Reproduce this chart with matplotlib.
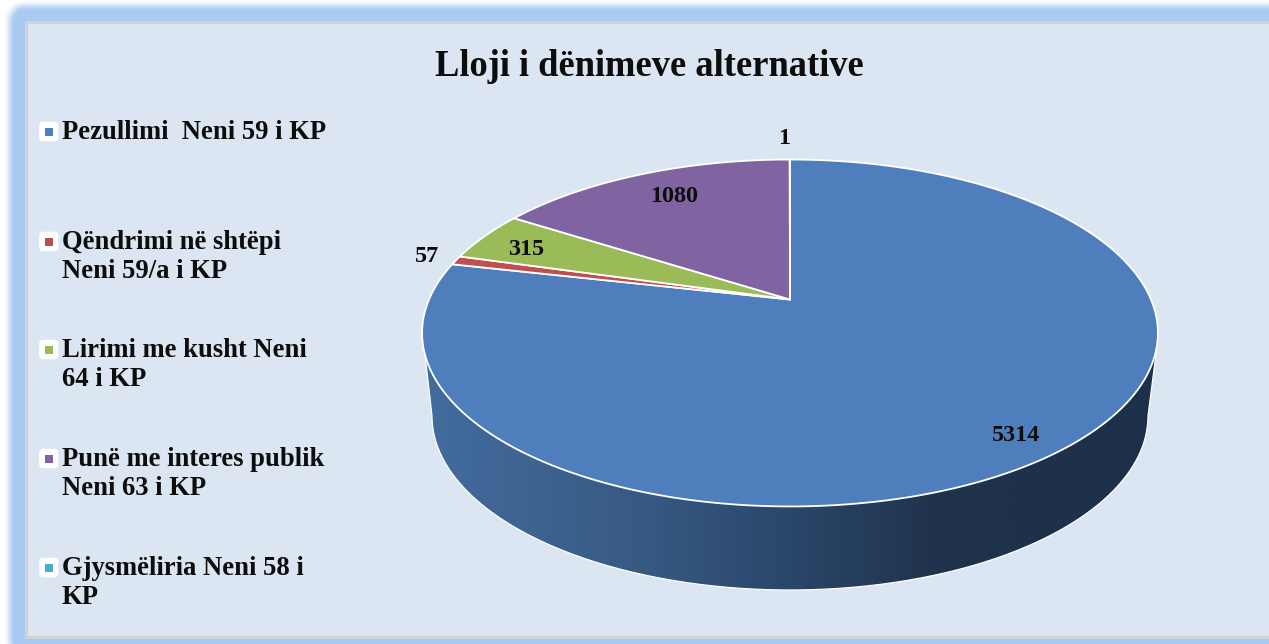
import numpy as np
import matplotlib
matplotlib.use("Agg")
import matplotlib.pyplot as plt
from matplotlib.patches import Polygon, FancyBboxPatch, Rectangle
from matplotlib.colors import LinearSegmentedColormap

# --- data ---
title = "Lloji i dënimeve alternative"
categories = ["Pezullimi  Neni 59 i KP", "Qëndrimi në shtëpi\nNeni 59/a i KP",
              "Lirimi me kusht Neni\n64 i KP", "Punë me interes publik\nNeni 63 i KP",
              "Gjysmëliria Neni 58 i\nKP"]
values = [5314, 57, 315, 1080, 1]
colors = ["#4e7fbc", "#c0504d", "#9bbb59", "#8064a2", "#4bacc6"]

W, H = 1269, 644
SERIF = "Liberation Serif"
fig = plt.figure(figsize=(W / 100, H / 100), dpi=100)
ax = fig.add_axes([0, 0, 1, 1])
ax.set_xlim(0, W)
ax.set_ylim(H, 0)
ax.axis("off")

# --- frame with soft blue glow ---
px0, py0, px1, py1 = 25, 21, W + 60, 638
yy, xx = np.mgrid[0.5:H, 0.5:W]
dx = np.maximum(np.maximum(px0 - xx, xx - px1), 0)
dy = np.maximum(np.maximum(py0 - yy, yy - py1), 0)
d = np.hypot(dx, dy)
t = np.clip((21.5 - d) / 11.5, 0, 1)
a = t * t * (3 - 2 * t)
band = np.array([0xA9, 0xCA, 0xF3]) / 255
img = 1 - a[..., None] * (1 - band)
ax.imshow(img, extent=(0, W, H, 0), aspect="auto", interpolation="bilinear", zorder=0)
ax.add_patch(Rectangle((px0 + 1, py0 + 1), px1 - px0, py1 - py0 - 2, fc="#dce6f2",
                       ec="#ced3d8", lw=2.2, zorder=1))

# --- perspective pie ---
cx, cy = 790.0, 299.5
bx, ay, k = 361.0, 167.0, 0.193


def project(theta):
    """theta: clockwise angle from 12 o'clock in radians."""
    X, Y = np.sin(theta), np.cos(theta)
    den = 1 + k * Y
    return cx + bx * X / den, cy - ay * Y / den


# side wall
lx, ly, lrx, lry = 790.0, 416.0, 358.0, 174.0
s = np.linspace(np.pi, 0, 240)
side_x = np.r_[424.5, lx + lrx * np.cos(s), 1156.5]
side_y = np.r_[350.0, ly + lry * np.sin(s), 350.0]
side = Polygon(np.c_[side_x, side_y], closed=True, fc="none", ec="none", zorder=2)
ax.add_patch(side)
cmap = LinearSegmentedColormap.from_list(
    "side", [(0, "#436c9e"), (0.295, "#375a83"), (0.50, "#2a466a"), (0.70, "#20334c"), (1, "#1c3049")])
grad = ax.imshow(np.linspace(0, 1, 512)[None, :], cmap=cmap, extent=(424, 1157, 600, 340),
                 aspect="auto", zorder=2, interpolation="bilinear")
grad.set_clip_path(side)
ax.plot(side_x, side_y, color="white", lw=0.9, zorder=3)
ax.set_xlim(0, W)
ax.set_ylim(H, 0)

# wedges
total = sum(values)
start = 0.0
for v, c in zip(values, colors):
    end = start + v / total * 2 * np.pi
    th = np.linspace(start, end, max(3, int(v / total * 720)))
    x, y = project(th)
    ax.add_patch(Polygon(np.c_[np.r_[cx, x], np.r_[cy, y]], closed=True, fc=c, ec="white",
                         lw=1.3, joinstyle="round", zorder=4))
    start = end

# data labels
label_pos = [(1016.5, 435), (427, 256), (526, 249), (674, 196), (784, 138)]
for v, (px, py) in zip(values, label_pos):
    ax.text(px, py, str(v), family=SERIF, weight="bold", fontsize=17.4, color="#0d0d0d",
            ha="center", va="center", zorder=6)

# title
ax.text(649, 66, title, family=SERIF, weight="bold", fontsize=26.3, color="#0d0d0d",
        ha="center", va="center", zorder=6)

# legend
legend_y = [131.5, 241.5, 349.5, 458.5, 567.5]
for name, c, ly_ in zip(categories, colors, legend_y):
    ax.add_patch(FancyBboxPatch((41, ly_ - 8), 15.5, 16, boxstyle="round,pad=0,rounding_size=2",
                                fc="white", ec="white", lw=2.6, zorder=5))
    ax.add_patch(Rectangle((45, ly_ - 4), 8, 8, fc=c, ec="none", zorder=6))
    for i, line in enumerate(name.split("\n")):
        ax.text(61.5, ly_ + 0.8 + i * 29, line, family=SERIF, weight="bold", fontsize=19.15,
                color="#0d0d0d", ha="left", va="center", zorder=6)

fig.savefig("out.png", dpi=100)
